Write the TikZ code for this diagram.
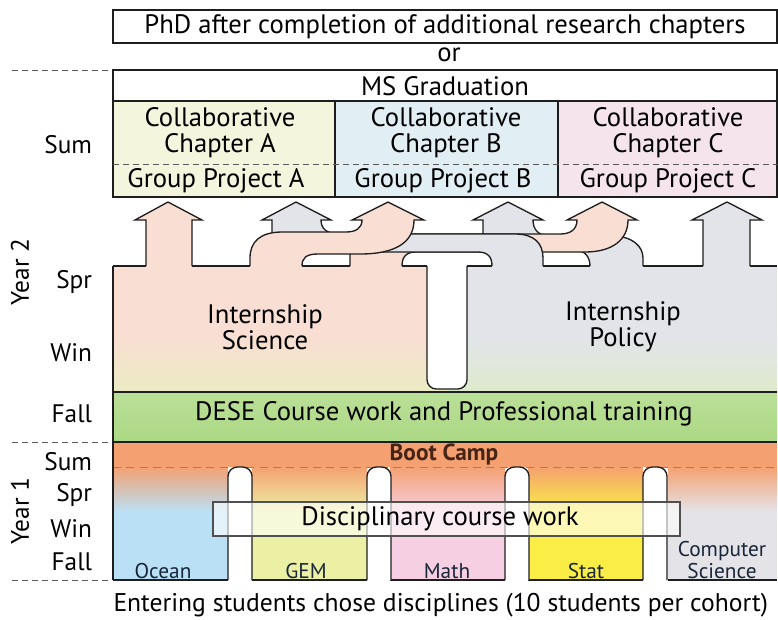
\documentclass[tikz,border=0pt]{standalone}
\usepackage{fontspec}
\setmainfont{PT Sans}
\usetikzlibrary{positioning}

\definecolor{chapA}{RGB}{243,245,221}
\definecolor{chapB}{RGB}{225,239,245}
\definecolor{chapC}{RGB}{246,228,237}
\definecolor{sciencecol}{RGB}{249,222,211}
\definecolor{policycol}{RGB}{226,228,234}
\definecolor{desecol}{RGB}{172,216,132}
\definecolor{bootcol}{RGB}{244,160,112}
\definecolor{oceancol}{RGB}{186,224,246}
\definecolor{gemcol}{RGB}{236,240,165}
\definecolor{mathcol}{RGB}{246,208,226}
\definecolor{statcol}{RGB}{250,238,70}
\definecolor{compcol}{RGB}{228,228,232}

\tikzset{every picture/.style={line width=0.75pt}}
\tikzset{
	science/.style={fill=sciencecol},
	policy/.style={fill=policycol},
	flow/.style={draw={rgb, 255:red, 30; green, 30; blue, 30 }, line width=1pt},
	edge/.style={draw={rgb, 255:red, 30; green, 30; blue, 30 }, line width=1pt},
	bigtxt/.style={font=\fontsize{20}{19.5}\selectfont, align=center},
	season/.style={font=\fontsize{19}{19}\selectfont, anchor=east},
	yeartxt/.style={font=\fontsize{19}{19}\selectfont, rotate=90},
	field/.style={font=\fontsize{16}{16.5}\selectfont, align=center, text={rgb, 255:red, 25; green, 38; blue, 58 }},
	sepline/.style={dash pattern=on 4.5pt off 3pt, draw={rgb, 255:red, 90; green, 90; blue, 90 }, line width=0.6pt}
}

\begin{document}
\begin{tikzpicture}[x=0.75pt,y=0.75pt,yscale=-1,xscale=1]
	\useasboundingbox (0,0) rectangle (778,619);

	%Shape: Rectangle [PhD]
	\draw [edge] (113,10) rectangle (777,43) ;
	%Shape: Rectangle [MS Graduation]
	\draw [edge] (113,70) rectangle (777,101) ;
	%Shape: Rectangle [chapters]
	\draw [edge, fill=chapA] (113,101) rectangle (335,197) ;
	\draw [edge, fill=chapB] (335,101) rectangle (558,197) ;
	\draw [edge, fill=chapC] (558,101) rectangle (777,197) ;
	\draw [sepline] (113,164) -- (777,164) ;

	%Internship bands
	\fill [science] (113,265.5) rectangle (447,392) ;
	\fill [policy] (447,265.5) rectangle (777,392) ;
	\shade [top color=sciencecol, bottom color={rgb, 255:red, 236; green, 236; blue, 196 }] (113,335) rectangle (447,392) ;
	\shade [top color=policycol, bottom color={rgb, 255:red, 222; green, 234; blue, 204 }] (447,335) rectangle (777,392) ;
	%T gap between the bands
	\draw [edge, fill=white, rounded corners=7pt] (427,266) -- (427,389) -- (467,389) -- (467,266) ;
	\foreach \a/\b in {113/146, 192/250, 302/350, 402/427, 467/492, 543/590, 643/703, 750/777}
		\draw [edge] (\a,266) -- (\b,266) ;
	\draw [edge] (113,266) -- (113,392) ;

	%Arrow: Policy to C
	\draw [flow, policy] (703,266) -- (703,220) -- (692,220) -- (727,202) -- (762,220) -- (750,220) -- (750,266) ;
	%Arrow: Science to A
	\draw [flow, science] (146,266) -- (146,220) -- (135,220) -- (168,202) -- (202,220) -- (192,220) -- (192,266) ;
	%Flow: Policy to B
	\draw [flow, policy] (590,266) .. controls (590,257) and (585,250) .. (574,250) -- (500,250) .. controls (489,250) and (483,244) .. (483,236) -- (483,220) -- (473,220) -- (508,202) -- (543,220) -- (533,220) .. controls (533,230) and (539,236) .. (550,236) -- (612,236) .. controls (632,236) and (643,246) .. (643,258) -- (643,266) ;
	%Flow: Science to C
	\draw [flow, science] (402,266) .. controls (402,257) and (406,252) .. (416,252) -- (585,252) .. controls (612,252) and (628,240) .. (628,220) -- (637,220) -- (602,202) -- (567,220) -- (577,220) .. controls (577,229) and (571,234) .. (560,234) -- (372,234) .. controls (357,234) and (350,244) .. (350,256) -- (350,266) ;
	%Flow: Policy to A
	\draw [flow, policy] (492,266) .. controls (492,257) and (488,252) .. (478,252) -- (292,252) .. controls (279,252) and (272,244) .. (272,234) -- (272,220) -- (262,220) -- (296,202) -- (331,220) -- (321,220) .. controls (321,229) and (327,234) .. (340,234) -- (515,234) .. controls (535,234) and (543,244) .. (543,258) -- (543,266) ;
	%Flow: Science to B
	\draw [flow, science] (302,266) .. controls (302,258) and (306,254) .. (318,254) -- (360,254) .. controls (396,254) and (414,242) .. (414,220) -- (424,220) -- (388,202) -- (352,220) -- (362,220) .. controls (362,228) and (356,232) .. (346,232) -- (282,232) .. controls (260,232) and (250,242) .. (250,258) -- (250,266) ;

	%Shape: Rectangle [DESE]
	\shade [top color={rgb, 255:red, 186; green, 224; blue, 152 }, bottom color=desecol] (113,392) rectangle (777,442) ;
	\draw [edge] (113,442) -- (113,392) -- (777,392) ;
	\draw [edge] (113,442) -- (777,442) ;

	%Boot camp and disciplines
	\fill [bootcol] (113,442.5) rectangle (777,467) ;
	\foreach \l/\r/\c in {113/228/oceancol, 252/367/gemcol, 390/505/mathcol, 528/643/statcol, 668/777/compcol} {
		\shade [top color=bootcol, bottom color=\c] (\l,466) rectangle (\r,512) ;
		\fill [\c] (\l,511.5) rectangle (\r,580) ;
		\draw [edge] (\l,580) -- (\r,580) ;
	}
	\draw [dash pattern=on 6pt off 4pt, draw={rgb, 255:red, 205; green, 112; blue, 62 }, line width=0.7pt] (113,467) -- (777,467) ;
	\foreach \l in {228, 367, 505, 643}
		\draw [edge, fill=white, rounded corners=7pt] (\l,580) -- (\l,467) -- (\l+24,467) -- (\l+24,580) ;
	\draw [edge] (113,442) -- (113,580) ;
	%Shape: Rectangle [disciplinary]
	\draw [draw={rgb, 255:red, 80; green, 80; blue, 80 }, fill=white, fill opacity=0.6, line width=0.8pt] (213,502) rectangle (680,536) ;

	%Year separators
	\draw [sepline] (12,70) -- (110,70) ;
	\draw [sepline] (12,442) -- (110,442) ;
	\draw [sepline] (12,580) -- (110,580) ;

	% Text Node
	\draw (445,27) node (phd) [bigtxt] {PhD after completion of additional research chapters};
	% Text Node
	\draw (449,55) node (or) [bigtxt] {or};
	% Text Node
	\draw (445,86) node (ms) [bigtxt] {MS Graduation};
	% Text Node
	\draw (220,133) node (chapa) [bigtxt] {Collaborative\\Chapter A};
	\draw (446,133) node (chapb) [bigtxt] {Collaborative\\Chapter B};
	\draw (668,133) node (chapc) [bigtxt] {Collaborative\\Chapter C};
	% Text Node
	\draw (216,181) node (groupa) [bigtxt] {Group Project A};
	\draw (443,181) node (groupb) [bigtxt] {Group Project B};
	\draw (668,181) node (groupc) [bigtxt] {Group Project C};
	% Text Node
	\draw (265,327) node (intsci) [bigtxt] {Internship\\Science};
	\draw (623,327) node (intpol) [bigtxt] {Internship\\Policy};
	% Text Node
	\draw (444,414) node (dese) [bigtxt] {DESE Course work and Professional training};
	% Text Node
	\draw (444,454) node (boot) [font=\fontsize{17.5}{17.5}\selectfont\bfseries, text={rgb, 255:red, 70; green, 36; blue, 22 }] {Boot Camp};
	% Text Node
	\draw (440,519) node (disc) [bigtxt] {Disciplinary course work};
	% Text Node
	\draw (163,571) node (ocean) [field] {Ocean};
	\draw (306,571) node (gem) [field] {GEM};
	\draw (447,571) node (math) [field] {Math};
	\draw (586,571) node (stat) [field] {Stat};
	\draw (722,560) node (comp) [field] {Computer\\Science};
	% Text Node
	\draw (113,605) node (caption) [font=\fontsize{19.2}{19}\selectfont, anchor=west, inner sep=0pt] {Entering students chose disciplines (10 students per cohort)};

	% Season labels
	\draw (97,145) node (sumb) [season] {Sum};
	\draw (97,282) node (sprb) [season] {Spr};
	\draw (97,353) node (winb) [season] {Win};
	\draw (97,414) node (fallb) [season] {Fall};
	\draw (97,462) node (suma) [season] {Sum};
	\draw (97,495) node (spra) [season] {Spr};
	\draw (97,529) node (wina) [season] {Win};
	\draw (97,562) node (falla) [season] {Fall};
	\draw (20,272) node (yeartwo) [yeartxt] {Year 2};
	\draw (20,511) node (yearone) [yeartxt] {Year 1};

\end{tikzpicture}
\end{document}
